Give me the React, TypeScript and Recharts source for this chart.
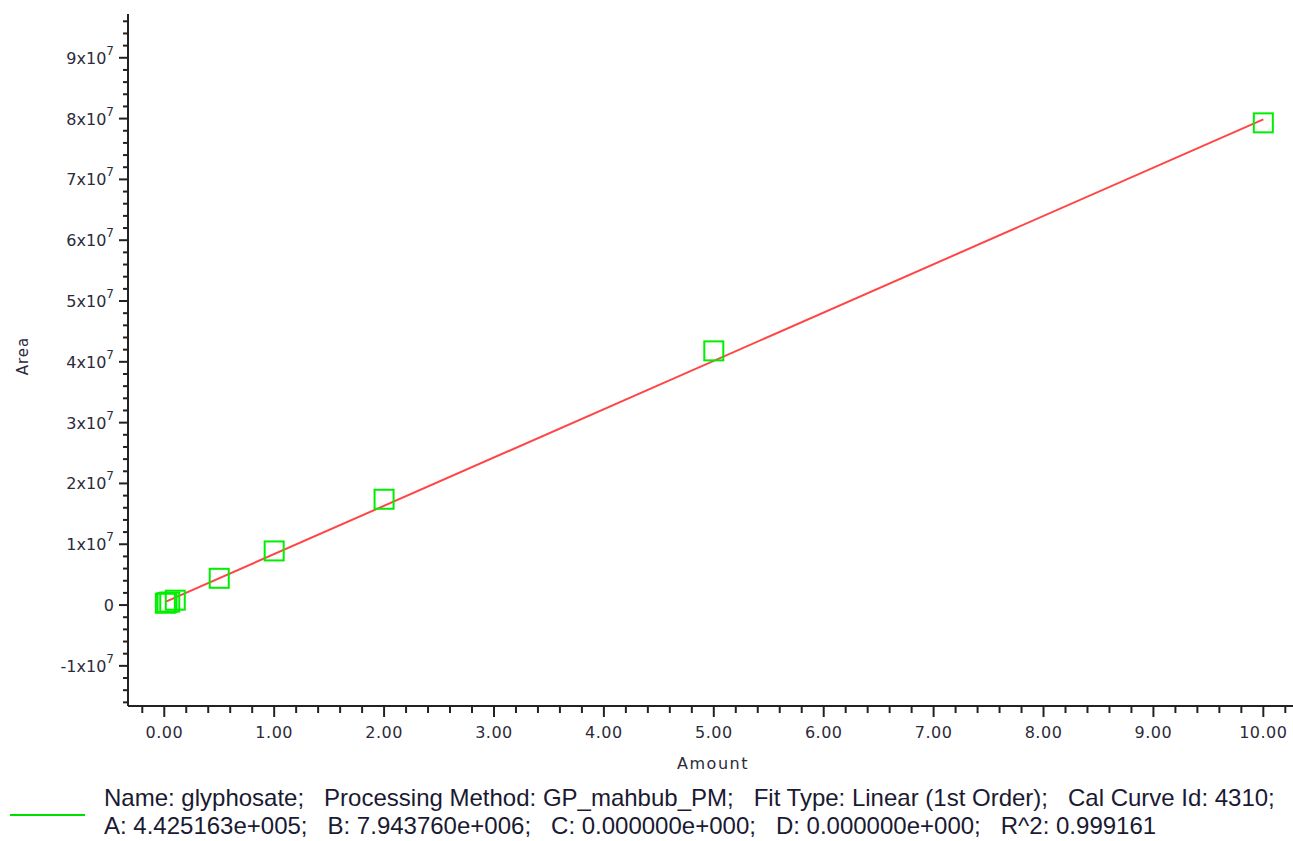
import React from 'react';
import { ScatterChart, Scatter, XAxis, YAxis } from 'recharts';

// calibration standards (Amount vs Area)
const amounts = [0.01, 0.025, 0.05, 0.1, 0.5, 1, 2, 5, 10];
const areas = [300000, 400000, 500000, 800000, 4400000, 8900000, 17400000, 41800000, 79300000];

// linear fit endpoints, from A + B*x in the legend
const fitAmounts = [0.01, 10];
const fitAreas = [521954, 79880116];

const xMajorTicks = [0, 1, 2, 3, 4, 5, 6, 7, 8, 9, 10];
const yMajorLabels = ['-1', '0', '1', '2', '3', '4', '5', '6', '7', '8', '9'];

const points = amounts.map((a, i) => ({ x: a, y: areas[i] }));
const fitLine = fitAmounts.map((a, i) => ({ x: a, y: fitAreas[i] }));

const xTicks: number[] = [];
for (let i = -1; i <= 51; i++) xTicks.push(Math.round(i * 2) / 10);
const yTicks: number[] = [];
for (let i = -8; i <= 48; i++) yTicks.push(i * 2000000);

const W = 1293;
const H = 790;
const axisColor = '#222';
const labelColor = '#2b2b3a';
const tickFont = '"DejaVu Sans", sans-serif';

const XTick = (props: any) => {
  const { x, y, payload } = props;
  const v = payload.value;
  const major = xMajorTicks.some((m) => Math.abs(m - v) < 1e-6);
  return (
    <g>
      <line x1={x} x2={x} y1={y} y2={y + (major ? 11 : 7)} stroke={axisColor} strokeWidth={2} />
      {major && (
        <text x={x} y={y + 32} textAnchor="middle" fontSize={16} fontFamily={tickFont} fill={labelColor} letterSpacing={0.5}>
          {v.toFixed(2)}
        </text>
      )}
    </g>
  );
};

const YTick = (props: any) => {
  const { x, y, payload } = props;
  const v = payload.value;
  const idx = Math.round(v / 10000000) + 1;
  const major = Math.abs(v % 10000000) < 1;
  const lab = yMajorLabels[idx];
  return (
    <g>
      <line x1={x} x2={x - (major ? 9 : 5)} y1={y} y2={y} stroke={axisColor} strokeWidth={2} />
      {major && (
        <text x={x - 14} y={y + 6} textAnchor="end" fontSize={16} fontFamily={tickFont} fill={labelColor}>
          {lab === '0' ? (
            '0'
          ) : (
            <>
              {lab}x10
              <tspan dy={-9} fontSize={12}>7</tspan>
            </>
          )}
        </text>
      )}
    </g>
  );
};

const Square = (props: any) => {
  const { cx, cy } = props;
  return <rect x={cx - 9.5} y={cy - 9.5} width={19} height={19} fill="none" stroke="#00ee00" strokeWidth={2} />;
};

export default function App() {
  return (
    <div style={{ position: 'relative', width: W, height: 841, background: '#fff', overflow: 'hidden' }}>
      <style>{`body { margin: 0; }`}</style>
      <ScatterChart width={W} height={H} margin={{ top: 14, right: 0, bottom: 0, left: 0 }}>
        <XAxis
          type="number"
          dataKey="x"
          domain={[-0.33, 10.27]}
          allowDataOverflow
          ticks={xTicks}
          interval={0}
          tick={<XTick />}
          tickSize={0}
          tickMargin={0}
          tickLine={false}
          axisLine={{ stroke: axisColor, strokeWidth: 2 }}
          height={84}
          label={{
            content: () => (
              <text x={713} y={769} textAnchor="middle" fontSize={16} fontFamily={tickFont} fill={labelColor} letterSpacing={1.5}>
                Amount
              </text>
            ),
          }}
        />
        <XAxis
          xAxisId="top"
          orientation="top"
          type="number"
          domain={[-0.33, 10.27]}
          tick={false}
          tickLine={false}
          height={0}
          axisLine={{ stroke: axisColor, strokeWidth: 2 }}
        />
        <YAxis
          type="number"
          dataKey="y"
          domain={[-16600000, 97200000]}
          allowDataOverflow
          ticks={yTicks}
          interval={0}
          tick={<YTick />}
          tickSize={0}
          tickMargin={0}
          tickLine={false}
          width={128}
          axisLine={{ stroke: axisColor, strokeWidth: 2 }}
          label={{
            content: () => (
              <text
                x={23}
                y={356}
                transform="rotate(-90 23 356)"
                textAnchor="middle"
                dominantBaseline="middle"
                fontSize={15}
                fontFamily={tickFont}
                fill={labelColor}
                letterSpacing={1}
              >
                Area
              </text>
            ),
          }}
        />
        <Scatter data={fitLine} line={{ stroke: '#ff4545', strokeWidth: 2 }} shape={() => <g />} isAnimationActive={false} />
        <Scatter data={points} shape={<Square />} isAnimationActive={false} />
      </ScatterChart>
      <div style={{ position: 'absolute', left: 10, top: 814, width: 75, height: 2, background: '#00e000' }} />
      <div
        style={{
          position: 'absolute',
          left: 104,
          top: 784,
          fontFamily: '"Liberation Sans", Arial, sans-serif',
          fontSize: 24,
          lineHeight: '28px',
          color: '#1a1a33',
          whiteSpace: 'pre',
          letterSpacing: 0,
        }}
      >
        <div>{'Name: glyphosate;   Processing Method: GP_mahbub_PM;   Fit Type: Linear (1st Order);   Cal Curve Id: 4310;'}</div>
        <div>{'A: 4.425163e+005;   B: 7.943760e+006;   C: 0.000000e+000;   D: 0.000000e+000;   R^2: 0.999161'}</div>
      </div>
    </div>
  );
}
